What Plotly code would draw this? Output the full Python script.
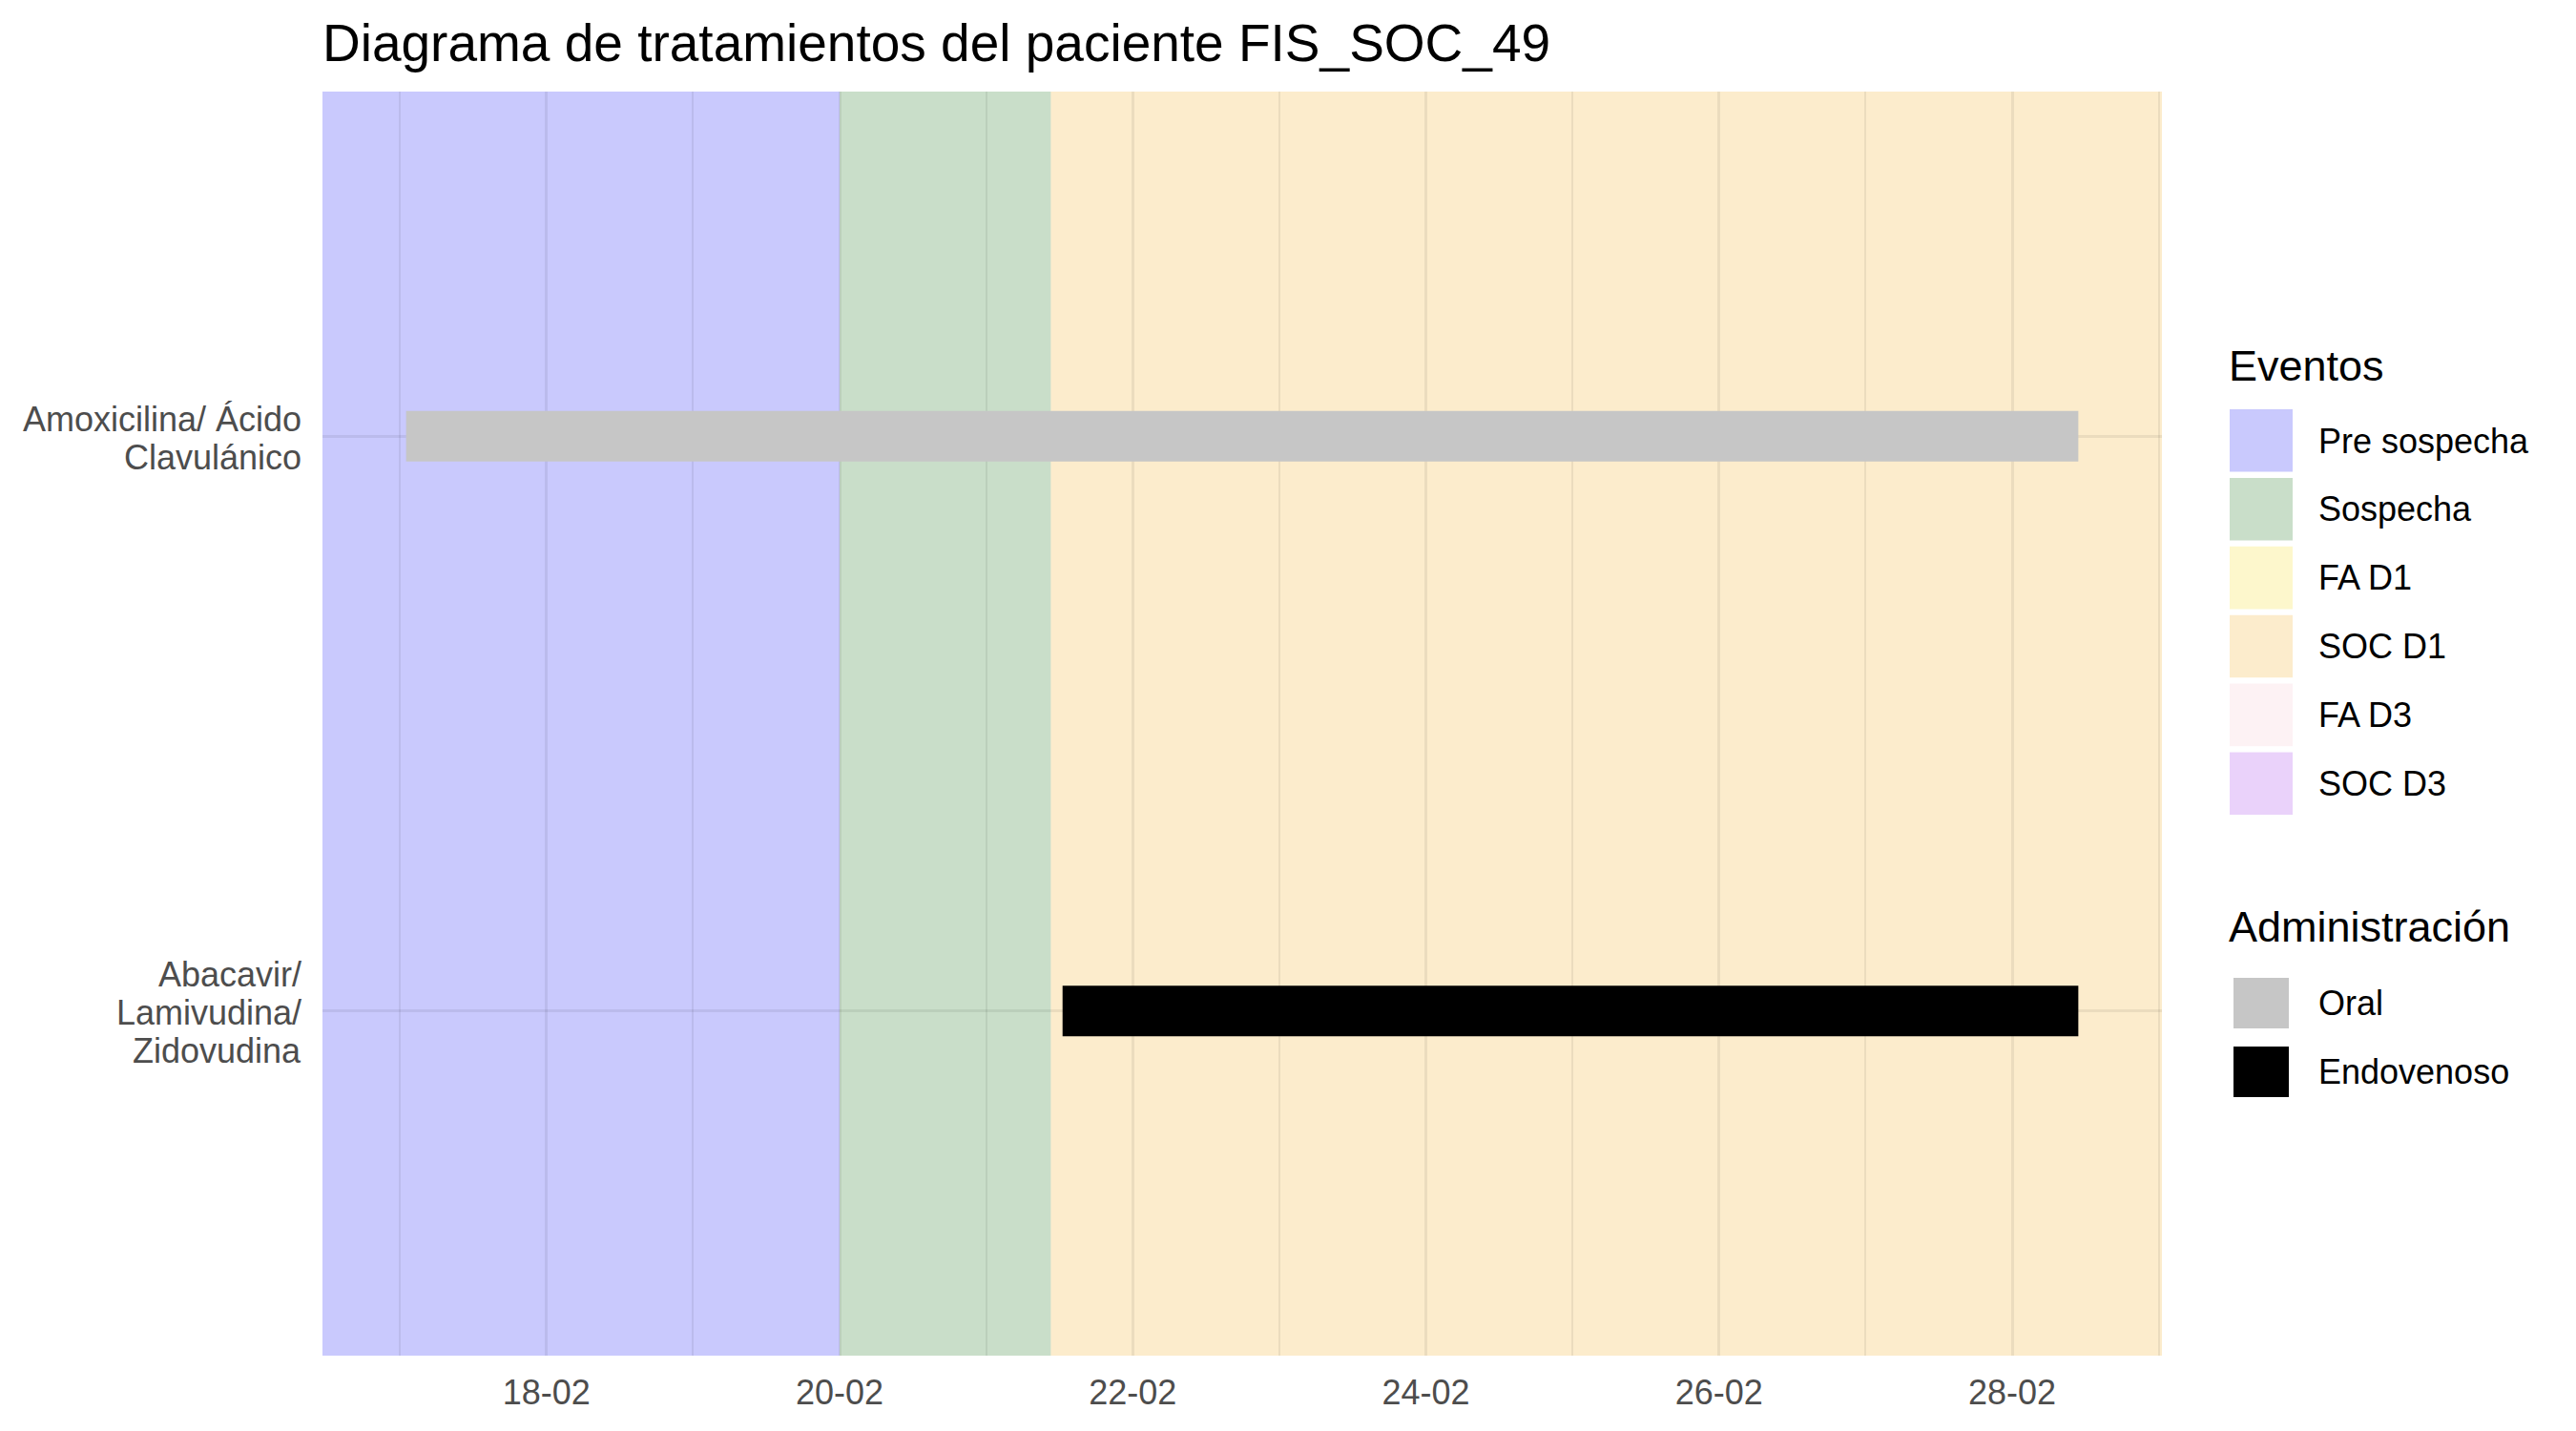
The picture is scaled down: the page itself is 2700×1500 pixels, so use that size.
import pandas as pd
import plotly.graph_objects as go

# ---------------- data ----------------
tratamientos = ["Amoxicilina/ Ácido Clavulánico", "Abacavir/ Lamivudina/ Zidovudina"]
etiquetas_y = [["Amoxicilina/ Ácido", "Clavulánico"], ["Abacavir/", "Lamivudina/", "Zidovudina"]]
inicio = ["2023-02-17 01:00", "2023-02-21 12:30"]
fin = ["2023-02-28 10:50", "2023-02-28 10:50"]
administracion = ["Oral", "Endovenoso"]

eventos = ["Pre sospecha", "Sospecha", "SOC D1"]
evento_inicio = [None, "2023-02-20 00:00", "2023-02-21 10:35"]
evento_fin = ["2023-02-20 00:00", "2023-02-21 10:35", None]

leyenda_eventos = ["Pre sospecha", "Sospecha", "FA D1", "SOC D1", "FA D3", "SOC D3"]
color_eventos = {
    "Pre sospecha": "rgba(0,0,245,0.21)",
    "Sospecha": "rgba(0,100,0,0.21)",
    "FA D1": "rgba(245,215,0,0.2)",
    "SOC D1": "rgba(240,160,0,0.2)",
    "FA D3": "rgba(245,190,200,0.2)",
    "SOC D3": "rgba(150,30,230,0.2)",
}
leyenda_admin = ["Oral", "Endovenoso"]
color_admin = {"Oral": "#C6C6C6", "Endovenoso": "#000000"}

titulo = "Diagrama de tratamientos del paciente FIS_SOC_49"
FONT = "Liberation Sans, Arial, sans-serif"
GRID = "rgba(0,0,0,0.065)"

# ---------------- layout geometry (pixels) ----------------
W, H = 2700, 1500
L, R, T, B = 338, 2266, 96, 1421


def px(xp):
    return (xp - L) / (R - L)


def py(yp):
    return (B - yp) / (B - T)


ini = pd.to_datetime(inicio)
fi = pd.to_datetime(fin)
span = fi.max() - ini.min()
xmin = ini.min() - 0.05 * span
xmax = fi.max() + 0.05 * span

fig = go.Figure()

# treatment bars
for t, s, e, a in zip(tratamientos, ini, fi, administracion):
    fig.add_trace(go.Bar(
        orientation="h",
        y=[t],
        x=[(e - s).total_seconds() * 1000],
        base=[s.strftime("%Y-%m-%d %H:%M:%S")],
        width=0.088,
        marker=dict(color=color_admin[a], line=dict(width=0)),
        showlegend=False,
        hoverinfo="skip",
    ))

# event bands
shapes = []
for ev, s, e in zip(eventos, evento_inicio, evento_fin):
    x0 = xmin if s is None else pd.to_datetime(s)
    x1 = xmax if e is None else pd.to_datetime(e)
    shapes.append(dict(
        type="rect", xref="x", yref="paper",
        x0=x0.strftime("%Y-%m-%d %H:%M:%S"), x1=x1.strftime("%Y-%m-%d %H:%M:%S"),
        y0=0, y1=1, fillcolor=color_eventos[ev], line=dict(width=0), layer="below",
    ))

annotations = []

# y-axis labels (multi-line, tight line spacing)
LINE = 40
for t, lines in zip(tratamientos, etiquetas_y):
    n = len(lines)
    for k, txt in enumerate(lines):
        annotations.append(dict(
            text=txt, xref="paper", yref="y", x=px(318), y=t,
            xanchor="right", yanchor="middle", showarrow=False,
            yshift=((n - 1) / 2 - k) * LINE - 2,
            font=dict(size=36, color="#4D4D4D", family=FONT)))

# manual legend
lx0, lx1 = 2337, 2403
label_x = 2428
annotations.append(dict(text="Eventos", xref="paper", yref="paper", x=px(2334), y=py(383),
                        xanchor="left", yanchor="middle", showarrow=False,
                        font=dict(size=45, color="#000000", family=FONT)))
for i, ev in enumerate(leyenda_eventos):
    top = 429 + 71.9 * i
    shapes.append(dict(type="rect", xref="paper", yref="paper",
                       x0=px(lx0), x1=px(lx1), y0=py(top + 65.6), y1=py(top),
                       fillcolor=color_eventos[ev], line=dict(width=0), layer="above"))
    annotations.append(dict(text=ev, xref="paper", yref="paper", x=px(label_x), y=py(top + 33),
                            xanchor="left", yanchor="middle", showarrow=False,
                            font=dict(size=36, color="#000000", family=FONT)))

annotations.append(dict(text="Administración", xref="paper", yref="paper", x=px(2334), y=py(972),
                        xanchor="left", yanchor="middle", showarrow=False,
                        font=dict(size=45, color="#000000", family=FONT)))
for i, a in enumerate(leyenda_admin):
    top = 1025 + 72 * i
    shapes.append(dict(type="rect", xref="paper", yref="paper",
                       x0=px(2341), x1=px(2399), y0=py(top + 53), y1=py(top),
                       fillcolor=color_admin[a], line=dict(width=0), layer="above"))
    annotations.append(dict(text=a, xref="paper", yref="paper", x=px(label_x), y=py(top + 26.5),
                            xanchor="left", yanchor="middle", showarrow=False,
                            font=dict(size=36, color="#000000", family=FONT)))

fig.update_layout(
    width=W, height=H,
    margin=dict(l=L, r=W - R, t=T, b=H - B, pad=0),
    paper_bgcolor="white", plot_bgcolor="white",
    title=dict(text=titulo, x=0, xref="paper", xanchor="left",
               y=1 - 45 / H, yref="container", yanchor="middle",
               font=dict(size=55, color="#000000", family=FONT)),
    font=dict(family=FONT),
    showlegend=False,
    barmode="overlay",
    shapes=shapes,
    annotations=annotations,
    xaxis=dict(
        type="date",
        range=[xmin.strftime("%Y-%m-%d %H:%M:%S"), xmax.strftime("%Y-%m-%d %H:%M:%S")],
        tick0="2023-02-18", dtick=2 * 86400000, tickformat="%d-%m",
        showgrid=True, gridcolor=GRID, gridwidth=3.2,
        zeroline=False, showline=False, ticks="",
        tickfont=dict(size=36, color="#4D4D4D", family=FONT),
        ticklabelstandoff=14,
        minor=dict(tick0="2023-02-17", dtick=86400000, showgrid=True,
                   gridcolor=GRID, gridwidth=1.6),
    ),
    yaxis=dict(
        type="category",
        categoryorder="array", categoryarray=list(reversed(tratamientos)),
        range=[-0.6, 1.6],
        showgrid=True, gridcolor=GRID, gridwidth=3.2,
        zeroline=False, showline=False, ticks="",
        showticklabels=False,
    ),
)

fig.write_html("out.html")
